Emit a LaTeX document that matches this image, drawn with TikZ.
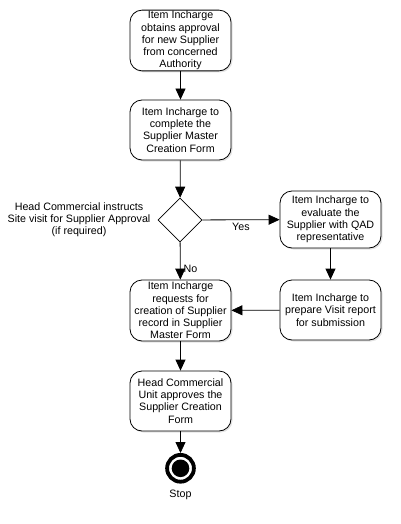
\documentclass[tikz,border=0pt]{standalone}
\usepackage{fontspec}
\setmainfont{Liberation Sans}
\usetikzlibrary{arrows.meta,shapes.geometric,shadows}
\begin{document}
\begin{tikzpicture}[x=1pt,y=-1pt,
  every node/.style={font=\fontsize{10.7}{12.2}\selectfont},
  act/.style={draw, line width=0.8pt, rounded corners=12pt, minimum width=101pt,
    minimum height=60pt, align=center, inner sep=1pt,
    drop shadow={shadow xshift=1.5pt, shadow yshift=-1.5pt, fill=black!18, opacity=0.6},
    fill=white},
  dec/.style={draw, line width=0.8pt, diamond, minimum width=44pt, minimum height=44pt,
    inner sep=0pt, fill=white},
  flow/.style={line width=0.8pt, -{Triangle[length=11pt,width=10pt]}},
  lbl/.style={align=center, inner sep=0pt}
]
\useasboundingbox (0,0) rectangle (400,524);
\node[act] (b1) at (180.5,40.5) {Item Incharge\\obtains approval\\for new Supplier\\from concerned\\Authority};
\node[act] (b2) at (180.5,130) {Item Incharge to\\complete the\\Supplier Master\\Creation Form};
\node[dec] (d) at (180,220) {};
\node[act, minimum height=57pt] (ev) at (330.5,219.5) {Item Incharge to\\evaluate the\\Supplier with QAD\\representative};
\node[act] (vr) at (330.5,310) {Item Incharge to\\prepare Visit report\\for submission};
\node[act, minimum height=61pt] (rq) at (180.5,310.5) {Item Incharge\\requests for\\creation of Supplier\\record in Supplier\\Master Form};
\node[act] (ap) at (180.5,401) {Head Commercial\\Unit approves the\\Supplier Creation\\Form};
\node[circle, draw, line width=3.8pt, minimum size=26.8pt, inner sep=0pt] (st) at (180.5,468.3) {};
\fill (st.center) circle (8.8pt);
\node[lbl] (stl) at (180.5,495) {Stop};
\node[lbl] (hc) at (79,220) {Head Commercial instructs\\Site visit for Supplier Approval\\(if required)};
\draw[flow] (b1) -- (b2);
\draw[flow] (b2) -- (d);
\draw[flow] (d) -- node[lbl, below=3pt] (yes) {Yes} (ev);
\draw[flow] (d) -- node[lbl, right=3pt, pos=0.72] (no) {No} (rq);
\draw[flow] (ev) -- (vr);
\draw[flow] (vr) -- (rq);
\draw[flow] (rq) -- (ap);
\draw[flow] (ap) -- (st.north);
\end{tikzpicture}
\end{document}
